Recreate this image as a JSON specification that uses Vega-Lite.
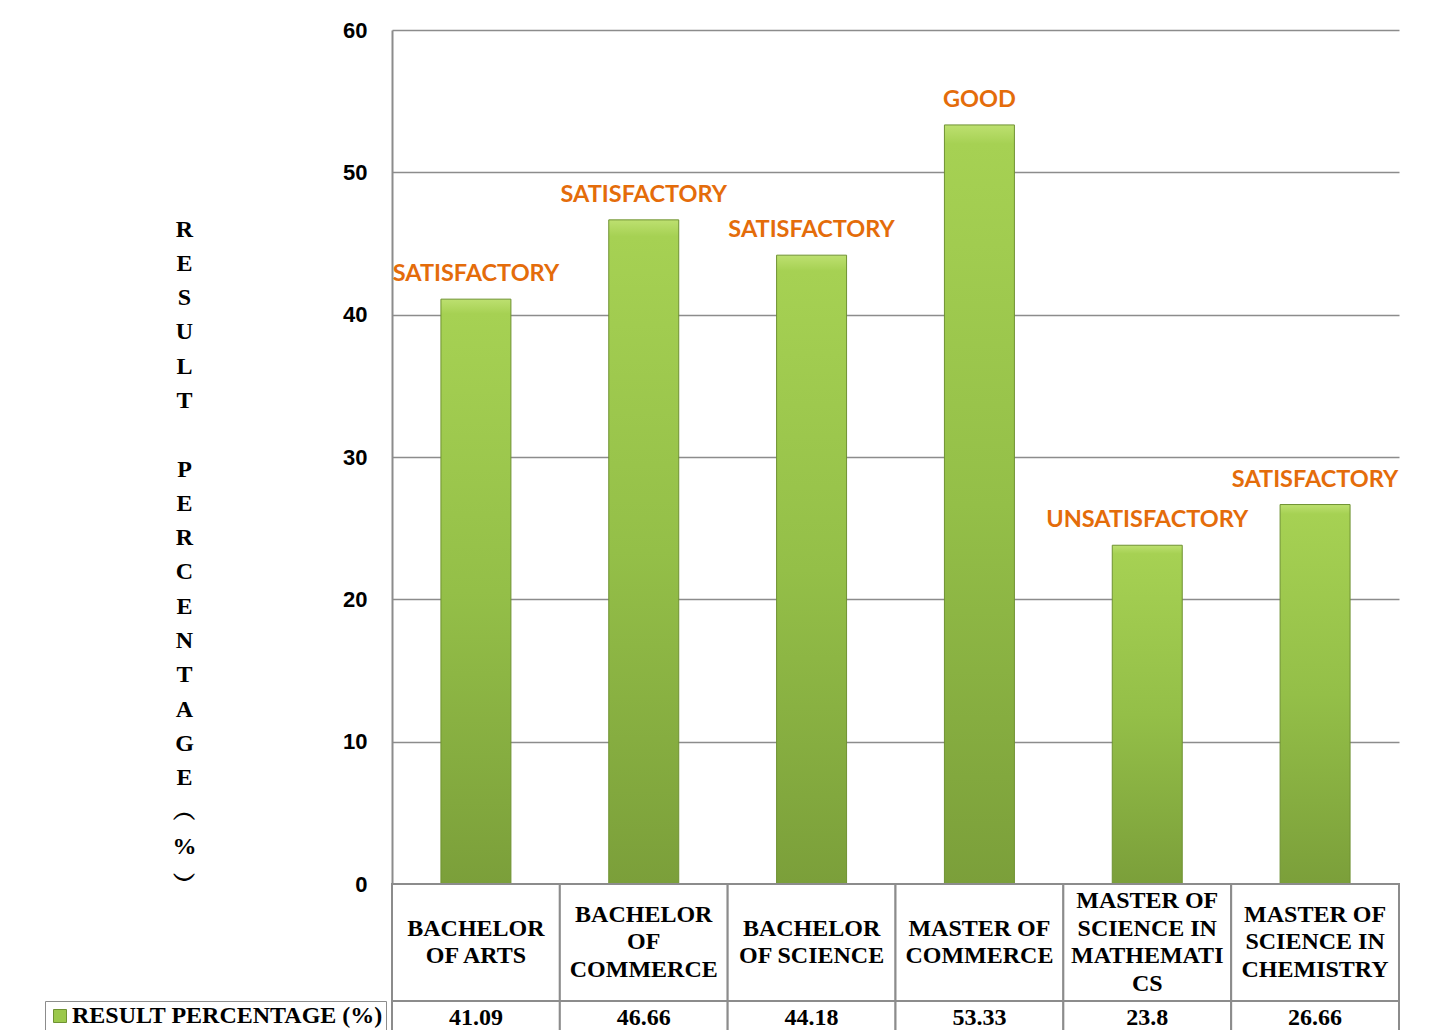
{
  "$schema": "https://vega.github.io/schema/vega-lite/v6.json",
  "autosize": {"type": "pad"},
  "padding": {"left": 44, "top": 19, "right": 20, "bottom": 0},
  "background": "white",
  "bounds": "flush",
  "config": {"view": {"stroke": null}},
  "datasets": {
    "rows": [
      {"program": "BACHELOR OF ARTS", "name": "BACHELOR\nOF ARTS", "value": 41.09, "label": "SATISFACTORY", "series": "RESULT PERCENTAGE (%)"},
      {"program": "BACHELOR OF COMMERCE", "name": "BACHELOR\nOF\nCOMMERCE", "value": 46.66, "label": "SATISFACTORY", "series": "RESULT PERCENTAGE (%)"},
      {"program": "BACHELOR OF SCIENCE", "name": "BACHELOR\nOF SCIENCE", "value": 44.18, "label": "SATISFACTORY", "series": "RESULT PERCENTAGE (%)"},
      {"program": "MASTER OF COMMERCE", "name": "MASTER OF\nCOMMERCE", "value": 53.33, "label": "GOOD", "series": "RESULT PERCENTAGE (%)"},
      {"program": "MASTER OF SCIENCE IN MATHEMATICS", "name": "MASTER OF\nSCIENCE IN\nMATHEMATI\nCS", "value": 23.8, "label": "UNSATISFACTORY", "series": "RESULT PERCENTAGE (%)"},
      {"program": "MASTER OF SCIENCE IN CHEMISTRY", "name": "MASTER OF\nSCIENCE IN\nCHEMISTRY", "value": 26.66, "label": "SATISFACTORY", "series": "RESULT PERCENTAGE (%)"}
    ]
  },
  "spacing": 0,
  "resolve": {"scale": {"x": "independent", "color": "independent"}},
  "vconcat": [
    {
      "width": 1007,
      "height": 854,
      "data": {"name": "rows"},
      "encoding": {
        "x": {"field": "program", "type": "nominal", "sort": null, "scale": {"paddingInner": 0.583, "paddingOuter": 0.2915}, "axis": null},
        "y": {
          "field": "value", "type": "quantitative",
          "scale": {"domain": [0, 60], "nice": false},
          "axis": {
            "values": [0, 10, 20, 30, 40, 50, 60],
            "grid": true, "gridColor": "#8c8c8c", "gridWidth": 1.5,
            "domainColor": "#8c8c8c", "domainWidth": 2,
            "ticks": false,
            "labelFont": "Liberation Sans", "labelFontWeight": "bold", "labelFontSize": 22, "labelColor": "#000000", "labelPadding": 25,
            "title": ["R", "E", "S", "U", "L", "T", "\u2800", "P", "E", "R", "C", "E", "N", "T", "A", "G", "E", "︵", "%", "︶"],
            "titleAngle": 0, "titleAlign": "center", "titleBaseline": "top",
            "titleX": -208, "titleY": 187,
            "titleFont": "Liberation Serif", "titleFontWeight": "bold", "titleFontSize": 24, "titleLineHeight": 34.3, "titleColor": "#000000"
          }
        }
      },
      "layer": [
        {
          "mark": {
            "type": "bar",
            "fill": {"gradient": "linear", "x1": 0, "y1": 0, "x2": 0, "y2": 1, "stops": [
              {"offset": 0, "color": "#bde070"},
              {"offset": 0.025, "color": "#a6d153"},
              {"offset": 0.5, "color": "#94bf48"},
              {"offset": 1, "color": "#7b9f3a"}
            ]},
            "stroke": "#6f9232", "strokeWidth": 1
          }
        },
        {
          "mark": {"type": "text", "font": "Lato", "fontWeight": "bold", "fontSize": 23.5, "color": "#e46c0a", "baseline": "alphabetic", "dy": -18},
          "encoding": {"text": {"field": "label"}}
        }
      ]
    },
    {
      "width": 1007,
      "height": 117,
      "data": {"name": "rows"},
      "encoding": {
        "x": {"field": "program", "type": "nominal", "sort": null, "scale": {"padding": 0}, "axis": null}
      },
      "layer": [
        {"mark": {"type": "rect", "fill": "white", "stroke": "#8c8c8c", "strokeWidth": 2}},
        {
          "mark": {"type": "text", "font": "Liberation Serif", "fontWeight": "bold", "fontSize": 24, "lineHeight": 27.7, "baseline": "middle", "lineBreak": "\n", "color": "#000000",
            "dy": {"expr": "-(length(split(datum.name, '\\n')) - 1) * 13.85"}},
          "encoding": {"text": {"field": "name"}}
        }
      ]
    },
    {
      "width": 1007,
      "height": 34,
      "data": {"name": "rows"},
      "encoding": {
        "x": {"field": "program", "type": "nominal", "sort": null, "scale": {"padding": 0}, "axis": null}
      },
      "layer": [
        {"mark": {"type": "rect", "fill": "white", "stroke": "#8c8c8c", "strokeWidth": 2}},
        {
          "mark": {"type": "text", "font": "Liberation Serif", "fontWeight": "bold", "fontSize": 24, "baseline": "middle", "color": "#000000"},
          "encoding": {"text": {"field": "value", "type": "quantitative"}}
        },
        {
          "mark": {"type": "square", "opacity": 0},
          "encoding": {
            "color": {
              "field": "series", "type": "nominal",
              "scale": {"range": ["#9bc84b"]},
              "legend": {
                "orient": "none", "legendX": -347, "legendY": 0,
                "title": null, "symbolType": "square", "symbolSize": 169, "symbolOpacity": 1,
                "symbolStrokeColor": "#6f9232", "symbolStrokeWidth": 1,
                "labelFont": "Liberation Serif", "labelFontWeight": "bold", "labelFontSize": 24, "labelColor": "#000000", "labelLimit": 400, "labelOffset": 0,
                "strokeColor": "#8c8c8c", "fillColor": "white", "padding": 3
              }
            }
          }
        }
      ]
    }
  ]
}
